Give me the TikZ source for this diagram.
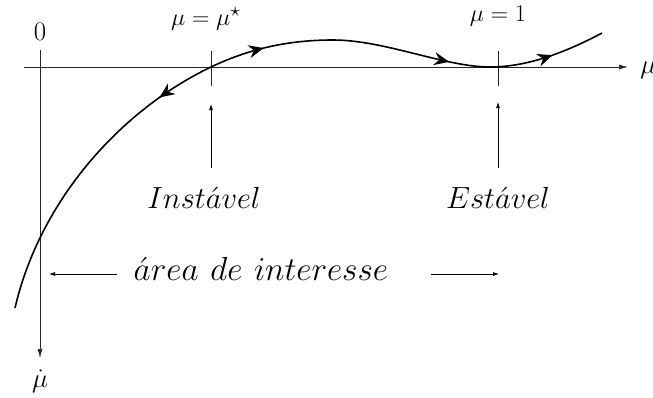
\documentclass[tikz,border=0pt]{standalone}
\usetikzlibrary{arrows.meta,decorations.markings}
\tikzset{flowtip/.tip={Stealth[length=15pt,width=13pt,inset=5pt]}}
\begin{document}
\begin{tikzpicture}[x=1pt,y=-1pt,
  axis/.style={line width=0.7pt,draw=black!85},
  tick/.style={line width=0.7pt,draw=black!85},
  pointer/.style={line width=0.7pt,-{Latex[length=6pt,width=4pt]}},
  biglabel/.style={inner sep=1pt,font=\Huge,scale=1.23},
  arealabel/.style={inner sep=1pt,font=\Huge,scale=1.34},
  smalllabel/.style={inner sep=1pt,font=\Huge,scale=0.97},
  axislabel/.style={inner sep=1pt,font=\Huge,scale=1.08},
  flow/.style={line width=1.6pt,
    postaction={decorate,decoration={markings,
      mark=at position 0.36 with {\arrowreversed{flowtip}},
      mark=at position 0.52 with {\arrow{flowtip}},
      mark=at position 0.78 with {\arrow{flowtip}},
      mark=at position 0.925 with {\arrow{flowtip}}}}}]
\useasboundingbox (0,0) rectangle (653,397);
% axes
\coordinate (hstart) at (24,67);
\coordinate (hend) at (628,67);
\coordinate (vstart) at (40,50);
\coordinate (vend) at (40,358);
\draw[axis,-{Latex[length=9pt,width=5pt]}] (hstart) -- (hend);
\draw[axis,-{Latex[length=9pt,width=5pt]}] (vstart) -- (vend);
\node[axislabel,anchor=west] (mu) at (639,70) {$\mu$};
\node[axislabel] (dmu) at (40,381) {$\dot\mu$};
\node[axislabel] (zero) at (40,32) {$0$};
% ticks
\coordinate (t1a) at (211,51); \coordinate (t1b) at (211,86);
\coordinate (t2a) at (498,51); \coordinate (t2b) at (498,86);
\draw[tick] (t1a) -- (t1b);
\draw[tick] (t2a) -- (t2b);
\node[smalllabel] (lstar) at (206,19) {$\mu=\mu^\star$};
\node[smalllabel] (lone) at (498,16) {$\mu=1$};
% pointers
\node[biglabel] (inst) at (204,198) {$Inst\acute{a}vel$};
\node[biglabel] (est) at (498,198) {$Est\acute{a}vel$};
\coordinate (p1a) at (211,168); \coordinate (p1b) at (211,104);
\coordinate (p2a) at (498,168); \coordinate (p2b) at (498,102);
\draw[pointer] (p1a) -- (p1b);
\draw[pointer] (p2a) -- (p2b);
% area de interesse
\node[arealabel] (area) at (261,269) {$\acute{a}rea\hspace{0.35em}de\hspace{0.35em}interesse$};
\coordinate (la) at (117,274); \coordinate (lb) at (49,274);
\coordinate (ra) at (431,274); \coordinate (rb) at (499,274);
\draw[pointer] (la) -- (lb);
\draw[pointer] (ra) -- (rb);
% curve
\coordinate (c0) at (15,308);
\coordinate (c1) at (211,67);
\coordinate (c2) at (333,40);
\coordinate (c3) at (490,67);
\coordinate (c4) at (602,33);
\draw[flow] (c0) .. controls (40,200) and (121,110) .. (c1)
  .. controls (251,48) and (290,40) .. (c2)
  .. controls (385,40) and (445,67) .. (c3)
  .. controls (530,67) and (570,50) .. (c4);
\end{tikzpicture}
\end{document}
